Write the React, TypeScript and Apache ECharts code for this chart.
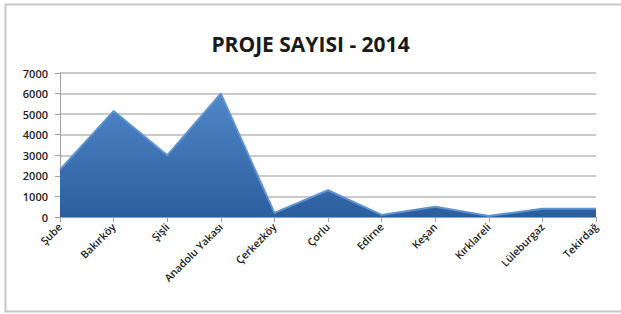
import React, { useEffect, useRef } from "react";
import * as echarts from "echarts";

const categories = ["Şube", "Bakırköy", "Şişli", "Anadolu Yakası", "Çerkezköy", "Çorlu", "Edirne", "Keşan", "Kırklareli", "Lüleburgaz", "Tekirdağ"];
const projeSayisi = [2300, 5150, 3000, 6000, 200, 1300, 100, 500, 50, 400, 400];
const yTicks = [0, 1000, 2000, 3000, 4000, 5000, 6000, 7000];

export default function App() {
  const ref = useRef<HTMLDivElement>(null);
  useEffect(() => {
    const chart = echarts.init(ref.current!, null, { renderer: "svg" });
    chart.setOption({
      animation: false,
      backgroundColor: "#ffffff",
      graphic: [
        {
          type: "rect",
          shape: { x: 5.5, y: 4.5, width: 620, height: 307 },
          style: { fill: "none", stroke: "#c8c8c8", lineWidth: 2 },
          silent: true,
        },
      ],
      title: {
        text: "PROJE SAYISI - 2014",
        left: "center",
        top: 28,
        textStyle: { fontFamily: "Open Sans", fontWeight: "bold", fontSize: 21, color: "#1a1a1a" },
      },
      grid: { left: 60, right: 25, top: 73, bottom: 97 },
      xAxis: {
        type: "category",
        data: categories,
        boundaryGap: false,
        axisLine: { show: true, lineStyle: { color: "#a0a0a0" } },
        axisTick: { show: true, alignWithLabel: true, length: 5, lineStyle: { color: "#a0a0a0" } },
        axisLabel: {
          rotate: 45,
          interval: 0,
          fontFamily: "Open Sans",
          fontWeight: 600,
          fontSize: 10.5,
          color: "#222",
          margin: 8,
        },
      },
      yAxis: {
        type: "value",
        min: yTicks[0],
        max: yTicks[yTicks.length - 1],
        interval: 1000,
        axisLine: { show: true, lineStyle: { color: "#a0a0a0" } },
        axisTick: { show: true, length: 5, lineStyle: { color: "#a0a0a0" } },
        axisLabel: {
          fontFamily: "Open Sans",
          fontWeight: 600,
          fontSize: 11,
          color: "#222",
          margin: 12,
          formatter: (v: number) => String(v),
        },
        splitLine: { lineStyle: { color: "#b8b8b8", width: 1.5 } },
      },
      series: [
        {
          type: "line",
          data: projeSayisi,
          symbol: "none",
          lineStyle: { color: "#5d92d3", width: 2 },
          areaStyle: {
            opacity: 1,
            color: new echarts.graphic.LinearGradient(0, 0, 0, 1, [
              { offset: 0, color: "#4f87c8" },
              { offset: 1, color: "#2c5e9e" },
            ]),
          },
        },
      ],
    });
    return () => chart.dispose();
  }, []);
  return <div ref={ref} style={{ width: 621, height: 314, position: "absolute", left: 0, top: 0 }} />;
}
